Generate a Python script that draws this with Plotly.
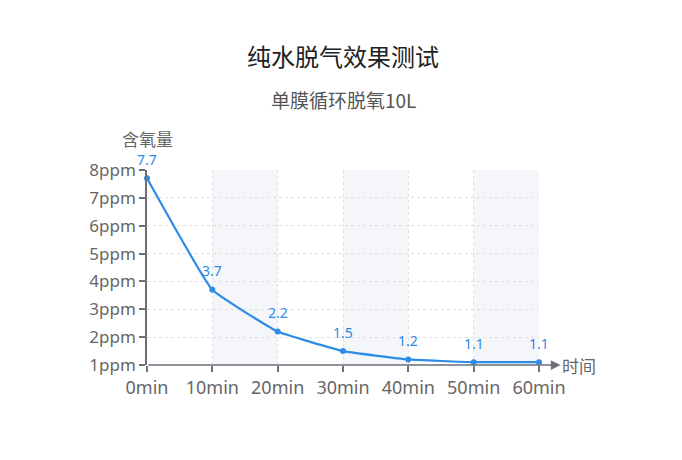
import plotly.graph_objects as go

# 单膜循环脱氧10L 数据
minutes = [0, 10, 20, 30, 40, 50, 60]
x_labels = ["0min", "10min", "20min", "30min", "40min", "50min", "60min"]
oxygen = [7.7, 3.7, 2.2, 1.5, 1.2, 1.1, 1.1]
y_ticks = [1, 2, 3, 4, 5, 6, 7, 8]
y_labels = ["%dppm" % v for v in y_ticks]

CJK = "Noto Sans CJK SC"
LATIN = "Noto Sans, Noto Sans CJK SC"
BLUE = "#2d8ce6"
AXIS = "#6e7079"
# page has an 8px body margin, so the figure is a bit smaller than the window
W, H = 674, 452
top, bottom, left, right = 162, 95, 139, 143

fig = go.Figure()

fig.add_trace(go.Scatter(
    x=minutes, y=oxygen,
    mode="lines+markers",
    line=dict(color=BLUE, width=2.2, shape="spline", smoothing=0.3),
    marker=dict(color=BLUE, size=6),
    cliponaxis=False,
    showlegend=False,
))

# shaded bands between every other interval
shapes = []
for i in range(1, len(minutes) - 1, 2):
    shapes.append(dict(type="rect", xref="x", yref="y",
                       x0=minutes[i], x1=minutes[i + 1], y0=y_ticks[0], y1=y_ticks[-1],
                       fillcolor="#f5f6fa", line=dict(width=0), layer="below"))
fig.update_layout(shapes=shapes)

fig.update_xaxes(
    range=[0, 60], tickvals=minutes, ticktext=x_labels,
    showgrid=True, gridcolor="#e0e0e0", griddash="dot", gridwidth=1,
    showline=False, zeroline=False, automargin=False,
    ticks="outside", ticklen=6, tickcolor=AXIS, tickwidth=1.5,
    tickfont=dict(size=18, color="#666666", family=LATIN),
)
fig.update_yaxes(
    range=[1, 8], tickvals=y_ticks, ticktext=y_labels,
    showgrid=True, gridcolor="#e0e0e0", griddash="dot", gridwidth=1,
    showline=True, linecolor=AXIS, linewidth=1.5, zeroline=False, automargin=False,
    ticks="outside", ticklen=6, tickcolor=AXIS, tickwidth=1.5,
    tickfont=dict(size=17, color="#666666", family=LATIN),
)


def py(pix):
    # screen pixel row -> paper y
    return (H - bottom - (pix - 8)) / (H - top - bottom)


annotations = [
    dict(text="纯水脱气效果测试", x=0.5, y=py(55), xref="paper", yref="paper",
         yanchor="middle", showarrow=False, font=dict(size=24, color="#222222", family=CJK)),
    dict(text="单膜循环脱氧10L", x=0.5, y=py(100), xref="paper", yref="paper",
         yanchor="middle", showarrow=False, font=dict(size=19, color="#555555", family=CJK)),
    dict(text="含氧量", x=0, y=py(138), xref="paper", yref="paper", xanchor="center",
         yanchor="middle", showarrow=False,
         font=dict(size=17, color="#666666", family=CJK)),
    dict(text="时间", x=1, y=0, xref="paper", yref="paper", xanchor="left",
         yanchor="middle", xshift=21, showarrow=False,
         font=dict(size=17, color="#666666", family=CJK)),
    # x axis line with arrow
    dict(x=63.3, y=1, ax=0, ay=1, xref="x", yref="y", axref="x", ayref="y",
         text="", showarrow=True, arrowhead=2, arrowsize=1.3, arrowwidth=1.5,
         arrowcolor=AXIS),
]
for m, v in zip(minutes, oxygen):
    annotations.append(dict(x=m, y=v, xref="x", yref="y", text=str(v),
                            showarrow=False, yshift=19, yanchor="middle",
                            font=dict(size=14, color=BLUE, family=LATIN)))
fig.update_layout(annotations=annotations)

fig.update_layout(
    width=W, height=H,
    margin=dict(l=left, r=right, t=top, b=bottom),
    paper_bgcolor="white", plot_bgcolor="white",
    font=dict(family=CJK),
)

fig.write_html("out.html")
